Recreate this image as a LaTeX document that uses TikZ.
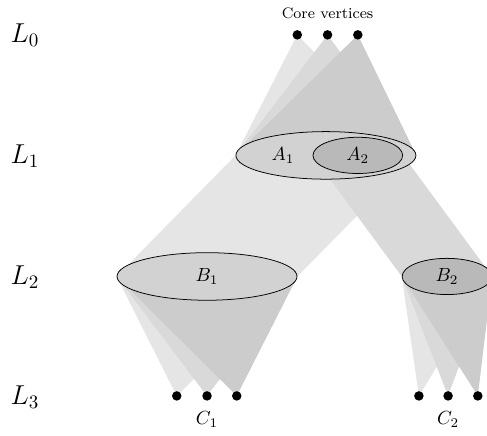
\documentclass[tikz,border=0pt]{standalone}
\usetikzlibrary{shapes.geometric,backgrounds}
\begin{document}
\begin{tikzpicture}[
    vertex/.style={circle, fill=black, inner sep=0pt, minimum size=5pt},
    bigset/.style={draw, ellipse, fill=gray!35, inner sep=0pt, minimum width=3.33cm, minimum height=0.88cm},
    smallset/.style={draw, ellipse, fill=gray!55, inner sep=0pt, minimum width=1.66cm, minimum height=0.67cm},
    level/.style={font=\Large},
    setlabel/.style={font=\normalsize},
    shadeA/.style={fill=gray!20},
    shadeB/.style={fill=gray!30},
    shadeC/.style={fill=gray!40},
]
\useasboundingbox (0,-0.74) rectangle (9.01,7.325);

% Levels
\node[level] (L0) at (0.46,6.68) {$L_0$};
\node[level] (L1) at (0.46,4.44) {$L_1$};
\node[level] (L2) at (0.46,2.20) {$L_2$};
\node[level] (L3) at (0.46,-0.02) {$L_3$};

% Core vertices
\node[font=\footnotesize] (core) at (6.06,7.07) {Core vertices};
\node[vertex] (v1) at (5.50,6.68) {};
\node[vertex] (v2) at (6.06,6.68) {};
\node[vertex] (v3) at (6.62,6.68) {};

% Sets on L1 and L2
\node[bigset] (A) at (6.03,4.45) {};
\node[setlabel] (A1) at (5.235,4.45) {$A_1$};
\node[smallset] (A2) at (6.62,4.45) {$A_2$};
\node[bigset] (B1) at (3.83,2.21) {$B_1$};
\node[smallset] (B2) at (8.27,2.21) {$B_2$};

% Vertices on L3
\node[vertex] (c11) at (3.27,0) {};
\node[vertex] (c12) at (3.83,0) {};
\node[vertex] (c13) at (4.38,0) {};
\node[vertex] (c21) at (7.75,0) {};
\node[vertex] (c22) at (8.29,0) {};
\node[vertex] (c23) at (8.84,0) {};
\node[setlabel] (C1) at (3.83,-0.44) {$C_1$};
\node[setlabel] (C2) at (8.29,-0.44) {$C_2$};

% Shaded cones
\begin{scope}[on background layer]
\foreach \v/\s in {v1/shadeA, v2/shadeB, v3/shadeC}
    \fill[\s] (\v.center) -- (A.west) -- (A.east) -- cycle;
\fill[shadeA] (A.west) -- (A.east) -- (B1.east) -- (B1.west) -- cycle;
\fill[shadeB] (A2.west) -- (A2.east) -- (B2.east) -- (B2.west) -- cycle;
\foreach \v/\s in {c11/shadeA, c12/shadeB, c13/shadeC}
    \fill[\s] (\v.center) -- (B1.west) -- (B1.east) -- cycle;
\foreach \v/\s in {c21/shadeA, c22/shadeB, c23/shadeC}
    \fill[\s] (\v.center) -- (B2.west) -- (B2.east) -- cycle;
\end{scope}

\end{tikzpicture}
\end{document}
